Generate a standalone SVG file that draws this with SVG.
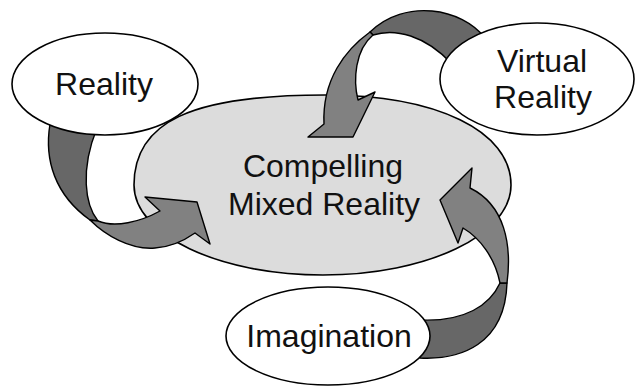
<svg xmlns="http://www.w3.org/2000/svg" width="635" height="387" viewBox="0 0 635 387">
<style>
  .node { fill: #ffffff; stroke: #000000; stroke-width: 1.6; }
  .center { fill: #dcdcdc; stroke: #000000; stroke-width: 1.6; }
  .dark { fill: #676767; stroke: #000000; stroke-width: 1.4; stroke-linejoin: round; }
  .light { fill: #818181; stroke: #000000; stroke-width: 1.4; stroke-linejoin: round; }
  text { font-family: "Liberation Sans", Arial, sans-serif; font-size: 32px; fill: #111111; text-anchor: middle; }
</style>
<rect width="635" height="387" fill="#ffffff"/>

<g id="node-compelling">
  <path class="center" d="M134,185 C134,122 191,95 325,95 C437,95 511,131 511,185 C511,235 427,275 323,275 C219,275 134,235 134,185 Z"/>
</g>

<g id="connectors">
  <!-- Reality -> Compelling -->
  <path class="dark" d="M50,124 C44,160 55,195 90,220 L98,221 C85,205 80,170 97,128 Z"/>
  <path class="light" d="M90,220 C105,235 130,250 155,248 C172,247 185,240 195,233 L210,244 L197,202 L145,197 L160,211 C140,222 115,228 98,221 Z"/>
  <!-- Virtual Reality -> Compelling -->
  <path class="dark" d="M485,38 C462,8 405,-2 370,32 L373,35 C395,28 425,35 452,64 Z"/>
  <path class="light" d="M370,32 C345,50 322,80 324,124 L308,137 L353,137 L375,92 L358,100 C353,80 355,50 373,35 Z"/>
  <!-- Imagination -> Compelling -->
  <path class="dark" d="M420,358 C460,360 505,345 507,283 L500,283 C490,305 465,322 420,320 Z"/>
  <path class="light" d="M507,283 C512,245 505,205 470,188 L472,168 L440,200 L458,243 L463,228 C480,238 495,258 500,283 Z"/>
</g>

<g id="node-reality">
  <ellipse class="node" cx="105" cy="84" rx="93" ry="51"/>
  <text x="104" y="95">Reality</text>
</g>

<g id="node-virtual-reality">
  <ellipse class="node" cx="537" cy="79" rx="97" ry="56"/>
  <text x="542" y="72">Virtual</text>
  <text x="543" y="108">Reality</text>
</g>

<g id="node-imagination">
  <ellipse class="node" cx="328" cy="336" rx="102" ry="49"/>
  <text x="329" y="347">Imagination</text>
</g>

<g id="label-compelling">
  <text x="323" y="177">Compelling</text>
  <text x="324" y="215">Mixed Reality</text>
</g>
</svg>
